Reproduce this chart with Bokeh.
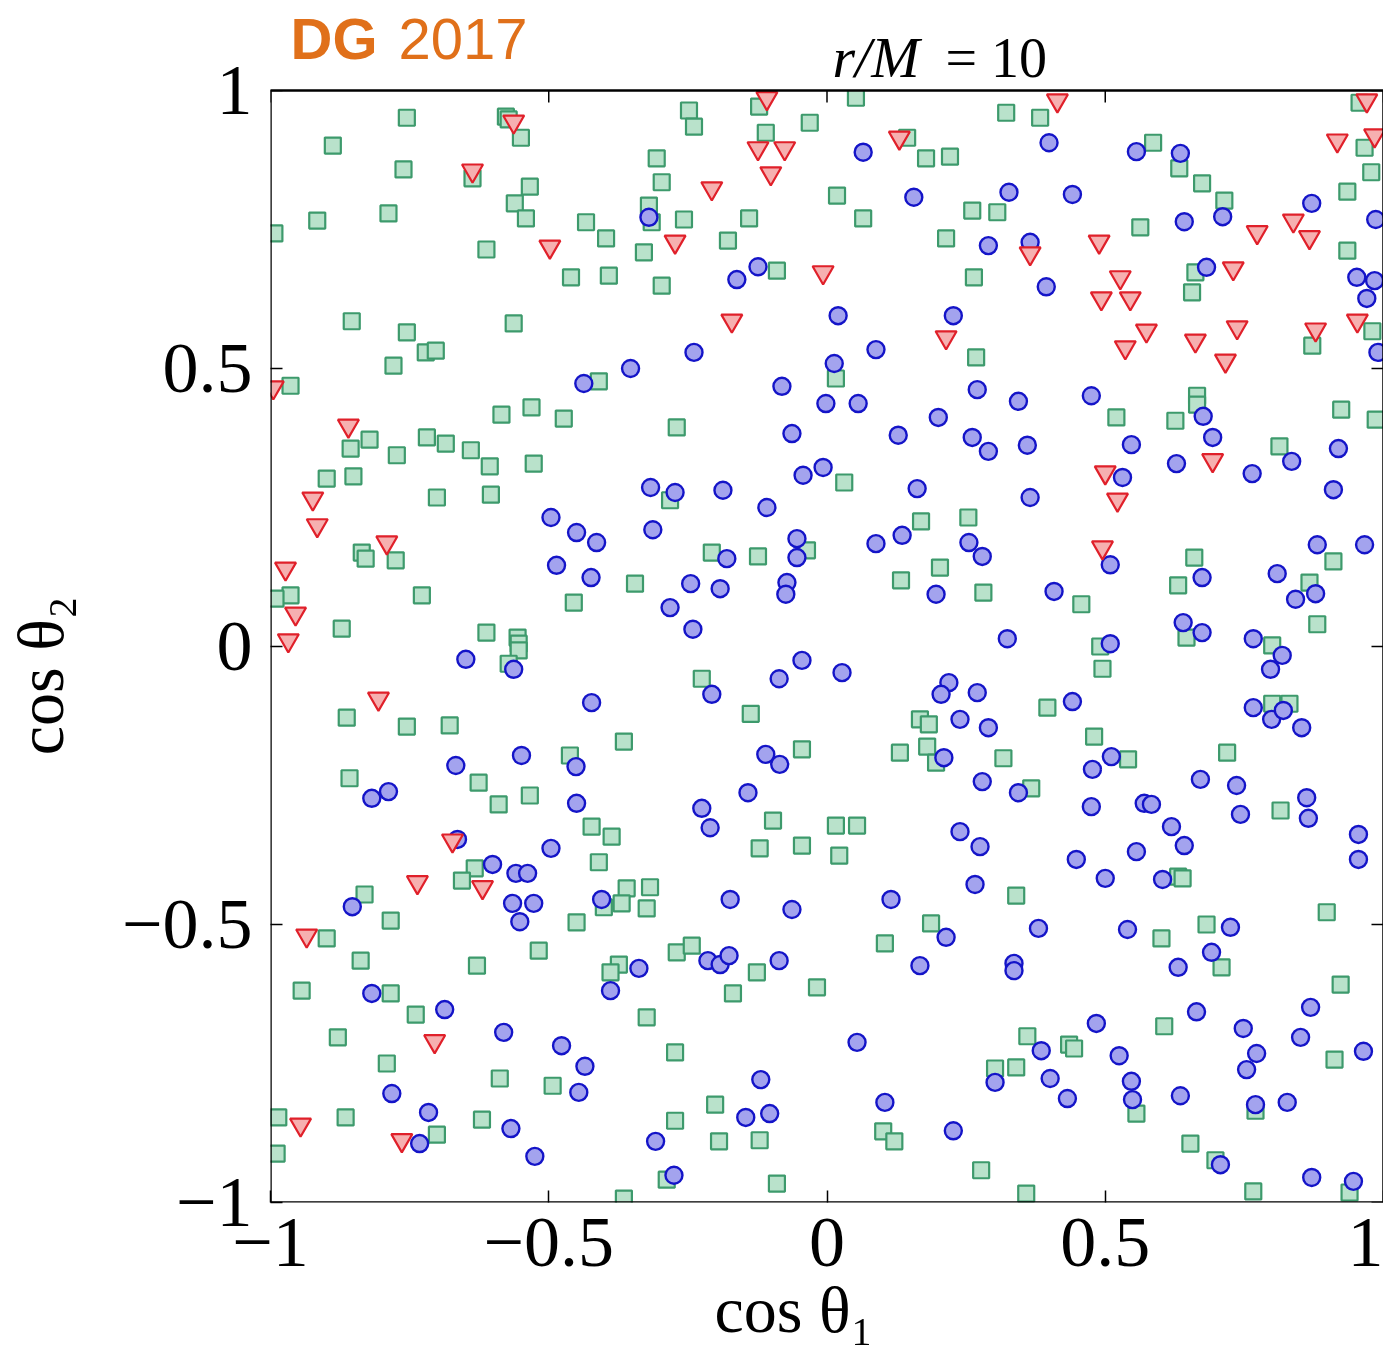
from bokeh.plotting import figure
from bokeh.models import Label, FixedTicker, Range1d, BoxAnnotation
from bokeh.embed import file_html
from bokeh.resources import INLINE

# blue circles (cos theta1, cos theta2)
circ_x = [-0.437, -0.353, 0.065, 0.156, 0.327, -0.320, 0.290, -0.124, -0.162, 0.020, 0.227, -0.239, 0.088,
          0.013, -0.081, 0.270, -0.002, 0.056, 0.200, -0.063, 0.128, 0.261, 0.290, 0.399, 0.556, 0.635,
          0.441, 0.642, 0.711, 0.871, 0.986, 0.365, 0.394, 0.682, 0.952, 0.984, 0.970, 0.990, 0.344, 0.475,
          0.676, 0.693, 0.360, 0.547, 0.919,
          -0.317, -0.273, -0.187, -0.108, -0.043, -0.007, 0.162, -0.313, -0.054, -0.054, -0.180, 0.088, 0.135,
          0.255, 0.279, -0.245, -0.192, -0.072, -0.074, 0.196, -0.282, -0.241, 0.324, -0.045, -0.086, 0.027,
          -0.207, 0.219, 0.205, 0.270, 0.239, 0.290, -0.110, -0.085, 0.210, 0.279, -0.142, -0.225, -0.210, 0.239,
          0.531, 0.628, 0.764, 0.835, 0.910, 0.365, 0.881, 0.966, 0.509, 0.674, 0.809, 0.842, 0.878, 0.408,
          0.640, 0.674, 0.766, 0.818, 0.797, 0.509, 0.441, 0.766, 0.799, 0.820, 0.853, 0.511, 0.477, 0.344,
          0.671, 0.736, 0.862, 0.865, 0.475, 0.570, 0.583, 0.743, 0.619, 0.955,
          -0.496, -0.450, -0.414, -0.486, -0.424, -0.649, -0.563, -0.423, -0.549, -0.667, -0.451, -0.788, -0.818,
          -0.450, -0.664, -0.601, -0.559, -0.538, -0.496, -0.565, -0.527, -0.552, -0.853, -0.405, -0.338, -0.389,
          -0.818, -0.687, -0.581, -0.477, -0.435, -0.446, -0.782, -0.716, -0.568, -0.732, -0.525,
          0.275, -0.174, -0.063, 0.266, 0.115, 0.214, 0.167, -0.214, -0.192, -0.176, -0.086, 0.054, -0.119,
          0.104, -0.146, -0.103, 0.227, -0.308, -0.275, 0.302,
          0.642, 0.556, 0.448, 0.500, 0.603, 0.955, 0.380, 0.540, 0.725, 0.691, 0.631, 0.336, 0.336, 0.664,
          0.869, 0.484, 0.748, 0.851, 0.964, 0.385, 0.525, 0.772, 0.754, 0.401, 0.547, 0.432, 0.549, 0.635,
          0.770, 0.827, 0.707, 0.871, 0.946]
circ_y = [0.473, 0.500, 0.889, 0.808, 0.817, 0.772, 0.721, 0.683, 0.660, 0.595, 0.595, 0.529, 0.534,
          0.509, 0.468, 0.462, 0.437, 0.437, 0.412, 0.383, 0.380, 0.376, 0.351, 0.906, 0.890, 0.887,
          0.813, 0.764, 0.773, 0.797, 0.768, 0.727, 0.647, 0.682, 0.664, 0.658, 0.626, 0.529, 0.441, 0.451,
          0.414, 0.376, 0.362, 0.363, 0.356,
          0.286, 0.277, 0.281, 0.250, 0.308, 0.322, 0.284, 0.210, 0.194, 0.160, 0.158, 0.185, 0.200,
          0.187, 0.162, 0.113, 0.104, 0.115, 0.094, 0.094, 0.070, 0.031, 0.014, -0.025, -0.058, -0.047,
          -0.086, -0.065, -0.086, -0.083, -0.131, -0.146, -0.194, -0.212, -0.200, -0.243, -0.263, -0.291, -0.326, -0.333,
          0.304, 0.329, 0.311, 0.333, 0.282, 0.268, 0.183, 0.183, 0.147, 0.124, 0.131, 0.085, 0.095, 0.099,
          0.043, 0.025, 0.014, -0.016, -0.041, 0.005, -0.099, -0.110, -0.131, -0.115, -0.146, -0.198, -0.221, -0.263,
          -0.239, -0.250, -0.272, -0.309, -0.288, -0.282, -0.284, -0.302, -0.324, -0.338,
          0.232, 0.205, 0.187, 0.146, 0.124, -0.023, -0.041, -0.101, -0.196, -0.214, -0.216, -0.261, -0.273,
          -0.282, -0.347, -0.392, -0.408, -0.408, -0.363, -0.462, -0.462, -0.495, -0.468, -0.455, -0.579, -0.619,
          -0.624, -0.653, -0.694, -0.718, -0.755, -0.802, -0.804, -0.838, -0.867, -0.894, -0.917,
          -0.360, -0.455, -0.473, -0.428, -0.455, -0.523, -0.574, -0.565, -0.572, -0.556, -0.565, -0.712, -0.779,
          -0.820, -0.847, -0.840, -0.871, -0.890, -0.951, -0.784,
          -0.358, -0.369, -0.383, -0.417, -0.419, -0.383, -0.507, -0.509, -0.505, -0.550, -0.577, -0.570, -0.583, -0.657,
          -0.649, -0.678, -0.687, -0.703, -0.728, -0.727, -0.736, -0.732, -0.761, -0.777, -0.782, -0.813, -0.815, -0.808,
          -0.824, -0.820, -0.932, -0.955, -0.962]

# green squares
sq_x = [-0.755, -0.888, -0.761, -0.577, -0.572, -0.550, -0.637, -0.534, -0.561, -0.541, -0.916, -0.788, -0.993,
        -0.433, -0.397, -0.612, -0.460, -0.392, -0.854, -0.755, -0.721, -0.703, -0.779, -0.563, -0.964, -0.410,
        -0.585, -0.531, -0.473, -0.856, -0.822, -0.773, -0.719, -0.685, -0.640, -0.606, -0.527,
        -0.248, -0.239, -0.122, -0.110, -0.031, 0.052, 0.322, 0.144, 0.178, 0.221, -0.306, -0.297, -0.320,
        -0.315, -0.257, -0.140, 0.018, 0.065, -0.178, -0.329, 0.214, 0.261, 0.306, -0.090, -0.297, 0.264,
        0.016, 0.268, -0.270,
        0.383, 0.586, 0.633, 0.674, 0.714, 0.563, 0.966, 0.978, 0.935, 0.935, 0.662, 0.656, 0.980, 0.872,
        0.665, 0.665, 0.924, 0.520, 0.626, 0.813, 0.986, 0.957,
        -0.899, -0.851, -0.701, -0.604, -0.836, -0.829, -0.775, -0.728, -0.964, -0.991, -0.872, -0.612, -0.556,
        -0.554, -0.554, -0.572, -0.345, -0.455, -0.863, -0.755, -0.678, -0.365, -0.462, -0.858, -0.626, -0.590,
        -0.534, -0.423, -0.387,
        -0.410, -0.633, -0.656, -0.831, -0.784, -0.899, -0.838, -0.629, -0.518, -0.450, -0.360, -0.401, -0.369,
        -0.374, -0.389, -0.944, -0.784, -0.739, -0.879, -0.791, -0.588, -0.493, -0.986, -0.865, -0.620, -0.701,
        -0.989, -0.365,
        0.031, -0.282, 0.169, 0.254, -0.207, -0.124, -0.036, 0.133, 0.203, 0.281, -0.225, -0.137, 0.167,
        0.183, 0.180, 0.196, 0.131, -0.045, 0.317, -0.097, 0.016, 0.054,
        0.660, 0.631, 0.457, 0.867, 0.910, 0.881, 0.646, 0.800, 0.491, 0.495, 0.396, 0.800, 0.831, 0.480,
        0.541, 0.719, 0.367, 0.815,
        -0.121, -0.045, 0.022, -0.318, -0.324, -0.270, -0.243, -0.126, -0.169, -0.018, 0.104, 0.187, -0.324,
        -0.273, -0.201, -0.273, -0.194, -0.121, 0.101, 0.121, 0.277, -0.288, -0.090, 0.302,
        0.340, 0.631, 0.639, 0.898, 0.682, 0.601, 0.709, 0.923, 0.606, 0.360, 0.435, 0.444, 0.340, 0.912,
        0.556, 0.770, 0.653, 0.698, 0.358, 0.766, 0.939]
sq_y = [0.951, 0.901, 0.858, 0.953, 0.948, 0.915, 0.842, 0.827, 0.797, 0.770, 0.766, 0.779, 0.743,
        0.763, 0.734, 0.714, 0.664, 0.667, 0.585, 0.565, 0.529, 0.532, 0.505, 0.581, 0.469, 0.477,
        0.417, 0.430, 0.410, 0.356, 0.372, 0.344, 0.376, 0.365, 0.353, 0.324, 0.329,
        0.964, 0.935, 0.971, 0.924, 0.942, 0.987, 0.960, 0.915, 0.878, 0.881, 0.878, 0.835, 0.793,
        0.763, 0.768, 0.770, 0.811, 0.770, 0.730, 0.709, 0.734, 0.784, 0.781, 0.676, 0.649, 0.664,
        0.482, 0.520, 0.394,
        0.951, 0.906, 0.860, 0.833, 0.802, 0.754, 0.897, 0.853, 0.818, 0.712, 0.673, 0.637, 0.567, 0.541,
        0.451, 0.435, 0.426, 0.412, 0.406, 0.360, 0.408, 0.978,
        0.302, 0.306, 0.268, 0.273, 0.169, 0.158, 0.155, 0.092, 0.092, 0.086, 0.032, 0.025, 0.016,
        0.005, -0.007, -0.031, 0.113, 0.079, -0.128, -0.144, -0.142, -0.171, -0.196, -0.237, -0.245, -0.284,
        -0.268, -0.324, -0.342,
        -0.388, -0.399, -0.421, -0.446, -0.493, -0.525, -0.565, -0.574, -0.547, -0.496, -0.435, -0.469, -0.462,
        -0.572, -0.586, -0.619, -0.624, -0.662, -0.703, -0.750, -0.777, -0.790, -0.847, -0.847, -0.851, -0.878,
        -0.912, -0.993,
        0.295, 0.263, 0.225, 0.232, 0.169, 0.162, 0.173, 0.119, 0.142, 0.097, -0.058, -0.121, -0.131,
        -0.140, -0.180, -0.209, -0.191, -0.185, -0.201, -0.313, -0.322, -0.322,
        0.160, 0.110, 0.076, 0.115, 0.153, 0.040, 0.016, 0.002, 0.000, -0.040, -0.110, -0.103, -0.103, -0.162,
        -0.203, -0.191, -0.255, -0.295,
        -0.363, -0.358, -0.376, -0.433, -0.471, -0.550, -0.538, -0.586, -0.624, -0.613, -0.534, -0.498, -0.667,
        -0.730, -0.824, -0.853, -0.890, -0.888, -0.872, -0.890, -0.942, -0.959, -0.966, -0.759,
        -0.448, -0.414, -0.417, -0.478, -0.500, -0.525, -0.577, -0.608, -0.683, -0.701, -0.716, -0.723, -0.757, -0.743,
        -0.840, -0.835, -0.894, -0.924, -0.984, -0.980, -0.982]

# red down-triangles
tri_x = [-0.563, -0.637, -0.498, -0.995, -0.860,
         -0.108, -0.124, -0.076, -0.101, -0.207, -0.273, 0.130, -0.007, -0.171, 0.214,
         0.414, 0.917, 0.984, 0.970, 0.489, 0.773, 0.838, 0.867, 0.730, 0.527, 0.493, 0.545, 0.574, 0.662,
         0.737, 0.536, 0.716, 0.878, 0.953, 0.365, 0.693,
         0.500, 0.522, 0.495,
         -0.924, -0.916, -0.791, -0.973, -0.955, -0.968, -0.806,
         -0.673, -0.736, -0.619, -0.935, -0.705, -0.946, -0.764]
tri_y = [0.944, 0.856, 0.719, 0.466, 0.397,
         0.986, 0.896, 0.896, 0.851, 0.824, 0.728, 0.915, 0.673, 0.586, 0.556,
         0.982, 0.910, 0.919, 0.982, 0.728, 0.745, 0.766, 0.736, 0.680, 0.664, 0.626, 0.626, 0.568, 0.550,
         0.574, 0.538, 0.514, 0.570, 0.586, 0.707, 0.335,
         0.313, 0.264, 0.178,
         0.266, 0.218, 0.187, 0.140, 0.059, 0.011, -0.094,
         -0.349, -0.424, -0.433, -0.520, -0.710, -0.860, -0.888]

tick_vals = [-1, -0.5, 0, 0.5, 1]
tick_text = ["\u22121", "\u22120.5", "0", "0.5", "1"]

# frame spans the whole height above the x axis; the data box is -1..1 (drawn as outline box),
# the strip above y=1 holds the header texts
PX_PER_UNIT = 556.0
TOP_PAD = 90
y_top = 1 + TOP_PAD / PX_PER_UNIT
tick_len = 12 / PX_PER_UNIT

p = figure(width=1383, height=1350, x_range=Range1d(-1, 1), y_range=Range1d(-1, y_top),
           output_backend="svg", toolbar_location=None,
           min_border_left=270, min_border_right=0, min_border_top=0, min_border_bottom=148)
p.background_fill_color = "white"
p.border_fill_color = "white"
p.grid.visible = False
p.outline_line_color = None

overrides = {v: t for v, t in zip(tick_vals, tick_text)}
for ax in [p.xaxis[0], p.yaxis[0]]:
    ax.ticker = FixedTicker(ticks=tick_vals)
    ax.major_label_overrides = overrides
    ax.major_tick_in = 12
    ax.major_tick_out = 0
    ax.major_tick_line_width = 1.5
    ax.minor_tick_line_color = None
    ax.axis_line_color = None
    ax.major_label_text_font = "Liberation Serif"
    ax.major_label_text_font_size = "72px"
    ax.major_label_text_color = "black"
    ax.axis_label_text_font = "Liberation Serif"
    ax.axis_label_text_font_size = "66px"
    ax.axis_label_text_font_style = "normal"
    ax.axis_label_text_color = "black"

NB = "\u00a0"
p.xaxis.axis_label = "cos \u03b8\u2081" + NB * 4
p.yaxis.axis_label = "cos \u03b8\u2082" + NB * 9
p.xaxis.major_label_standoff = 16
p.xaxis.axis_label_standoff = 4
p.yaxis.major_label_standoff = 18
p.yaxis.axis_label_standoff = 42

n = len(tick_vals)
p.segment(x0=tick_vals, y0=[1] * n, x1=tick_vals, y1=[1 - tick_len] * n, line_color="black", line_width=1.5)
p.segment(x0=[1] * n, y0=tick_vals, x1=[1 - tick_len] * n, y1=tick_vals, line_color="black", line_width=1.5)

p.scatter(sq_x, sq_y, marker="square", size=16, line_color="#3d9a6c", fill_color="#b9e2cb", line_width=2.2)
p.scatter(circ_x, circ_y, marker="circle", size=17, line_color="#1414c8", fill_color="#a3a3ee", line_width=2.4)
p.scatter(tri_x, tri_y, marker="inverted_triangle", size=21, line_color="#e0202a", fill_color="#f6b0b0", line_width=2.2)

# white strip above the data box (clips markers at the top edge like the reference)
p.add_layout(BoxAnnotation(left=-1, right=1, bottom=1, top=y_top, fill_color="white", fill_alpha=1.0,
                           line_alpha=0))
# data box outline
p.add_layout(BoxAnnotation(left=-1, right=1, bottom=-1, top=1, fill_alpha=0,
                           line_color="black", line_alpha=1.0, line_width=2.5))

p.add_layout(Label(x=20, y=1164, x_units="screen", y_units="screen", text="DG",
                   text_font="Liberation Sans", text_font_style="bold", text_font_size="58px",
                   text_color="#e0701a", text_baseline="alphabetic"))
p.add_layout(Label(x=128, y=1164, x_units="screen", y_units="screen", text="2017",
                   text_font="Liberation Sans", text_font_size="58px",
                   text_color="#e0701a", text_baseline="alphabetic"))
p.add_layout(Label(x=562, y=1145, x_units="screen", y_units="screen", text="r/M",
                   text_font="Liberation Serif", text_font_style="italic", text_font_size="58px",
                   text_color="black", text_baseline="alphabetic"))
p.add_layout(Label(x=675, y=1145, x_units="screen", y_units="screen", text="= 10",
                   text_font="Liberation Serif", text_font_size="56px",
                   text_color="black", text_baseline="alphabetic"))

open("out.html", "w").write(file_html(p, INLINE))
